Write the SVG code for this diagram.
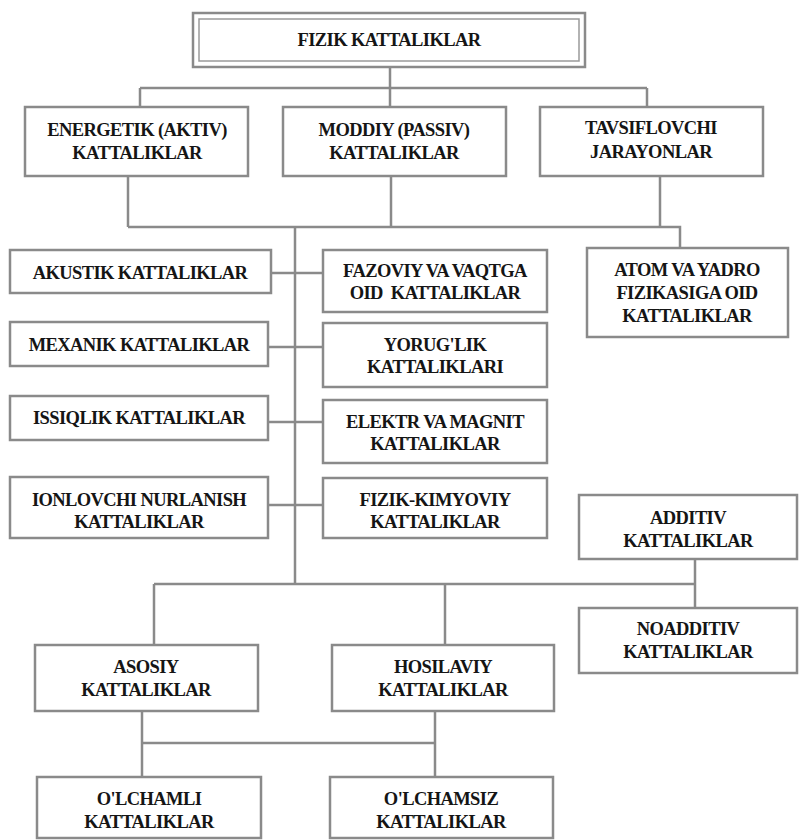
<svg xmlns="http://www.w3.org/2000/svg" width="802" height="840" viewBox="0 0 802 840">
  <style>
    .box { fill: #ffffff; stroke: #8a8a8a; stroke-width: 2.5; }
    .inner { fill: none; stroke: #9a9a9a; stroke-width: 1.5; }
    .lbl { font-family: "Liberation Serif", "Times New Roman", serif; font-weight: bold; font-size: 18.5px; letter-spacing: -0.6px; fill: #151515; text-anchor: middle; }
    .conn { fill: none; stroke: #8a8a8a; stroke-width: 2.5; }
  </style>
  <rect width="802" height="840" fill="#ffffff"/>

  <!-- connectors -->
  <g id="connectors" class="conn">
    <!-- root to second level -->
    <path d="M390 67 V88 M140 88 H647 M140 88 V107 M390 88 V107 M647 88 V107"/>
    <!-- second level to collector line -->
    <path d="M128 176 V227 M391 176 V227 M660 176 V227 M128 227 H680 V248"/>
    <!-- main spine -->
    <path d="M295 227 V584"/>
    <!-- side branches -->
    <path d="M271 273 H323 M268 347 H323 M268 422 H323 M268 505 H323"/>
    <!-- lower collector -->
    <path d="M154 584 H695 M154 584 V645 M445 584 V645"/>
    <path d="M695 559 V608"/>
    <!-- basic / derived to dimensional -->
    <path d="M142 711 V777 M435 711 V777 M142 743 H435"/>
  </g>

  <g id="fizik">
    <rect class="box" x="193" y="13" width="392" height="54" stroke-width="4"/>
    <rect class="inner" x="199" y="19" width="380" height="42"/>
    <text class="lbl" x="389" y="46">FIZIK KATTALIKLAR</text>
  </g>

  <g id="energetik">
    <rect class="box" x="25" y="107" width="223" height="69"/>
    <text class="lbl" x="137" y="136">ENERGETIK (AKTIV)</text>
    <text class="lbl" x="137" y="159">KATTALIKLAR</text>
  </g>

  <g id="moddiy">
    <rect class="box" x="283" y="107" width="223" height="69"/>
    <text class="lbl" x="394" y="136">MODDIY (PASSIV)</text>
    <text class="lbl" x="394" y="159">KATTALIKLAR</text>
  </g>

  <g id="tavsiflovchi">
    <rect class="box" x="540" y="107" width="223" height="69"/>
    <text class="lbl" x="651" y="134">TAVSIFLOVCHI</text>
    <text class="lbl" x="651" y="158">JARAYONLAR</text>
  </g>

  <g id="akustik">
    <rect class="box" x="10" y="250" width="261" height="43"/>
    <text class="lbl" x="140" y="279">AKUSTIK KATTALIKLAR</text>
  </g>

  <g id="mexanik">
    <rect class="box" x="10" y="322" width="258" height="44"/>
    <text class="lbl" x="139" y="351">MEXANIK KATTALIKLAR</text>
  </g>

  <g id="issiqlik">
    <rect class="box" x="10" y="396" width="258" height="44"/>
    <text class="lbl" x="139" y="424">ISSIQLIK KATTALIKLAR</text>
  </g>

  <g id="ionlovchi">
    <rect class="box" x="10" y="477" width="258" height="61"/>
    <text class="lbl" x="139" y="506">IONLOVCHI NURLANISH</text>
    <text class="lbl" x="139" y="528">KATTALIKLAR</text>
  </g>

  <g id="fazoviy">
    <rect class="box" x="323" y="250" width="224" height="62"/>
    <text class="lbl" x="435" y="277">FAZOVIY VA VAQTGA</text>
    <text class="lbl" x="435" y="299">OID&#160; KATTALIKLAR</text>
  </g>

  <g id="yoruglik">
    <rect class="box" x="323" y="323" width="224" height="64"/>
    <text class="lbl" x="435" y="351">YORUG'LIK</text>
    <text class="lbl" x="435" y="373">KATTALIKLARI</text>
  </g>

  <g id="elektr">
    <rect class="box" x="323" y="400" width="224" height="63"/>
    <text class="lbl" x="435" y="428">ELEKTR VA MAGNIT</text>
    <text class="lbl" x="435" y="450">KATTALIKLAR</text>
  </g>

  <g id="fizik-kimyoviy">
    <rect class="box" x="323" y="478" width="224" height="60"/>
    <text class="lbl" x="435" y="506">FIZIK-KIMYOVIY</text>
    <text class="lbl" x="435" y="528">KATTALIKLAR</text>
  </g>

  <g id="atom">
    <rect class="box" x="587" y="248" width="201" height="89"/>
    <text class="lbl" x="687" y="276">ATOM VA YADRO</text>
    <text class="lbl" x="687" y="299">FIZIKASIGA OID</text>
    <text class="lbl" x="687" y="322">KATTALIKLAR</text>
  </g>

  <g id="additiv">
    <rect class="box" x="579" y="495" width="218" height="64"/>
    <text class="lbl" x="688" y="524">ADDITIV</text>
    <text class="lbl" x="688" y="547">KATTALIKLAR</text>
  </g>

  <g id="noadditiv">
    <rect class="box" x="579" y="608" width="218" height="65"/>
    <text class="lbl" x="688" y="635">NOADDITIV</text>
    <text class="lbl" x="688" y="658">KATTALIKLAR</text>
  </g>

  <g id="asosiy">
    <rect class="box" x="35" y="645" width="223" height="66"/>
    <text class="lbl" x="146" y="673">ASOSIY</text>
    <text class="lbl" x="146" y="696">KATTALIKLAR</text>
  </g>

  <g id="hosilaviy">
    <rect class="box" x="332" y="645" width="222" height="66"/>
    <text class="lbl" x="443" y="673">HOSILAVIY</text>
    <text class="lbl" x="443" y="696">KATTALIKLAR</text>
  </g>

  <g id="olchamli">
    <rect class="box" x="37" y="777" width="224" height="61"/>
    <text class="lbl" x="149" y="805">O'LCHAMLI</text>
    <text class="lbl" x="149" y="828">KATTALIKLAR</text>
  </g>

  <g id="olchamsiz">
    <rect class="box" x="330" y="777" width="223" height="61"/>
    <text class="lbl" x="441" y="805">O'LCHAMSIZ</text>
    <text class="lbl" x="441" y="828">KATTALIKLAR</text>
  </g>
</svg>
